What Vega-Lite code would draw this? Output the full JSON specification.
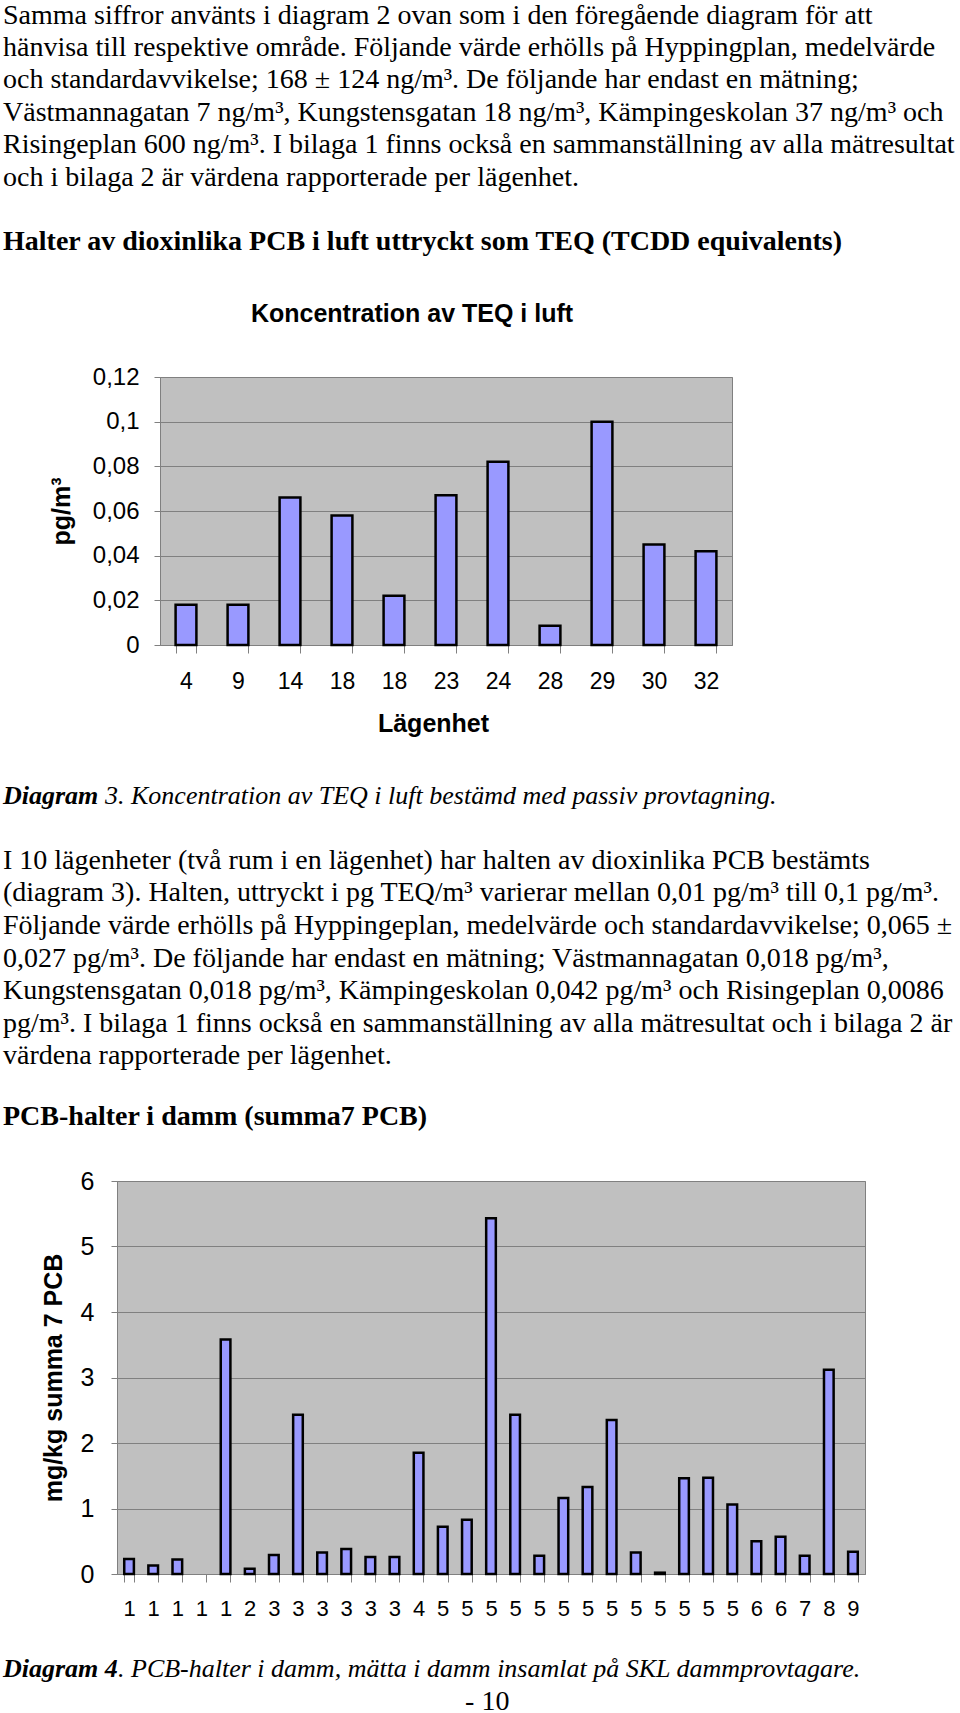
{
  "$schema": "https://vega.github.io/schema/vega-lite/v6.json",
  "background": "white",
  "padding": {"left": 3, "right": 0, "top": 1, "bottom": 0},
  "spacing": 37,
  "config": {
    "view": {"fill": "#c0c0c0", "stroke": "#808080", "strokeWidth": 1},
    "font": "Liberation Sans",
    "axis": {
      "labelFont": "Liberation Sans", "labelColor": "black",
      "titleFont": "Liberation Sans", "titleFontWeight": "bold", "titleColor": "black",
      "domainColor": "#808080", "tickColor": "#808080", "gridColor": "#808080", "gridOpacity": 1, "gridWidth": 1,
      "labelOverlap": false
    }
  },
  "vconcat": [
    {
      "title": {
        "text": [
          "Samma siffror använts i diagram 2 ovan som i den föregående diagram för att",
          "hänvisa till respektive område. Följande värde erhölls på Hyppingplan, medelvärde",
          "och standardavvikelse; 168 ± 124 ng/m³. De följande har endast en mätning;",
          "Västmannagatan 7 ng/m³, Kungstensgatan 18 ng/m³, Kämpingeskolan 37 ng/m³ och",
          "Risingeplan 600 ng/m³. I bilaga 1 finns också en sammanställning av alla mätresultat",
          "och i bilaga 2 är värdena rapporterade per lägenhet."
        ],
        "subtitle": "Halter av dioxinlika PCB i luft uttryckt som TEQ (TCDD equivalents)",
        "anchor": "start", "frame": "bounds", "orient": "top",
        "font": "Liberation Serif", "fontSize": 28, "fontWeight": "normal", "lineHeight": 32.4, "color": "black",
        "subtitleFont": "Liberation Serif", "subtitleFontSize": 28, "subtitleFontWeight": "bold",
        "subtitleColor": "black", "subtitleLineHeight": 32.4, "subtitlePadding": 36,
        "offset": 46, "dx": 0
      },
      "vconcat": [
        {
          "title": {
            "text": "Diagram",
            "orient": "bottom", "anchor": "start", "frame": "bounds", "baseline": "top",
            "font": "Liberation Serif", "fontSize": 26, "fontStyle": "italic", "fontWeight": "bold", "color": "black",
            "offset": 0, "dx": -36, "dy": -26
          },
          "vconcat": [
            {
              "title": {
                "text": "3. Koncentration av TEQ i luft bestämd med passiv provtagning.",
                "orient": "bottom", "anchor": "start", "frame": "bounds", "baseline": "top",
                "font": "Liberation Serif", "fontSize": 26, "fontStyle": "italic", "fontWeight": "normal", "color": "black",
                "offset": 46, "dx": 66
              },
              "hconcat": [
                {
                  "width": 9, "height": 1,
                  "view": {"fill": null, "stroke": null},
                  "data": {"values": []},
                  "mark": {"type": "point", "opacity": 0}
                },
                {
                  "title": {
                    "text": "Koncentration av TEQ i luft",
                    "font": "Liberation Sans", "fontSize": 25, "fontWeight": "bold", "color": "black",
                    "anchor": "middle", "frame": "group", "offset": 38, "dx": -34
                  },
                  "width": 572,
                  "height": 268,
                  "data": {
                    "values": [
                      {"nr": 1, "lagenhet": "4", "teq": 0.018},
                      {"nr": 2, "lagenhet": "9", "teq": 0.018},
                      {"nr": 3, "lagenhet": "14", "teq": 0.066},
                      {"nr": 4, "lagenhet": "18", "teq": 0.058},
                      {"nr": 5, "lagenhet": "18", "teq": 0.022},
                      {"nr": 6, "lagenhet": "23", "teq": 0.067},
                      {"nr": 7, "lagenhet": "24", "teq": 0.082},
                      {"nr": 8, "lagenhet": "28", "teq": 0.0086},
                      {"nr": 9, "lagenhet": "29", "teq": 0.1},
                      {"nr": 10, "lagenhet": "30", "teq": 0.045},
                      {"nr": 11, "lagenhet": "32", "teq": 0.042}
                    ]
                  },
                  "mark": {"type": "bar", "fill": "#9999ff", "stroke": "black", "strokeWidth": 2.5},
                  "encoding": {
                    "x": {
                      "field": "nr", "type": "ordinal",
                      "scale": {"paddingInner": 0.6, "paddingOuter": 0.3},
                      "axis": {
                        "title": "Lägenhet", "titleFontSize": 25, "titlePadding": 18, "titleX": 273,
                        "labelAngle": 0, "labelFontSize": 23, "labelPadding": 17,
                        "tickSize": 8, "tickBand": "extent",
                        "labelExpr": "split('4,9,14,18,18,23,24,28,29,30,32', ',')[datum.value - 1]"
                      }
                    },
                    "y": {
                      "field": "teq", "type": "quantitative",
                      "scale": {"domain": [0, 0.12]},
                      "axis": {
                        "title": "pg/m³", "titleFontSize": 25, "titlePadding": 18,
                        "values": [0, 0.02, 0.04, 0.06, 0.08, 0.1, 0.12],
                        "labelExpr": "replace(format(datum.value, '.2~f'), '.', ',')",
                        "labelFontSize": 24, "labelPadding": 15, "tickSize": 6, "grid": true
                      }
                    }
                  }
                }
              ],
              "spacing": 0
            }
          ]
        }
      ]
    },
    {
      "title": {
        "text": [
          "I 10 lägenheter (två rum i en lägenhet) har halten av dioxinlika PCB bestämts",
          "(diagram 3). Halten, uttryckt i pg TEQ/m³ varierar mellan 0,01 pg/m³ till 0,1 pg/m³.",
          "Följande värde erhölls på Hyppingeplan, medelvärde och standardavvikelse; 0,065 ±",
          "0,027 pg/m³. De följande har endast en mätning; Västmannagatan 0,018 pg/m³,",
          "Kungstensgatan 0,018 pg/m³, Kämpingeskolan 0,042 pg/m³ och Risingeplan 0,0086",
          "pg/m³. I bilaga 1 finns också en sammanställning av alla mätresultat och i bilaga 2 är",
          "värdena rapporterade per lägenhet."
        ],
        "subtitle": "PCB-halter i damm (summa7 PCB)",
        "anchor": "start", "frame": "bounds", "orient": "top",
        "font": "Liberation Serif", "fontSize": 28, "fontWeight": "normal", "lineHeight": 32.6, "color": "black",
        "subtitleFont": "Liberation Serif", "subtitleFontSize": 28, "subtitleFontWeight": "bold",
        "subtitleColor": "black", "subtitleLineHeight": 32.6, "subtitlePadding": 32,
        "offset": 38, "dx": 0
      },
      "vconcat": [
        {
          "title": {
            "text": "- 10",
            "orient": "bottom", "anchor": "middle", "frame": "bounds",
            "font": "Liberation Serif", "fontSize": 28, "fontWeight": "normal", "color": "black",
            "offset": 6, "dx": 53
          },
          "vconcat": [
            {
              "title": {
                "text": "Diagram 4",
                "orient": "bottom", "anchor": "start", "frame": "bounds", "baseline": "top",
                "font": "Liberation Serif", "fontSize": 26, "fontStyle": "italic", "fontWeight": "bold", "color": "black",
                "offset": 0, "dx": -36, "dy": -26
              },
              "vconcat": [
                {
                  "title": {
                    "text": ". PCB-halter i damm, mätta i damm insamlat på SKL dammprovtagare.",
                    "orient": "bottom", "anchor": "start", "frame": "bounds", "baseline": "top",
                    "font": "Liberation Serif", "fontSize": 26, "fontStyle": "italic", "fontWeight": "normal", "color": "black",
                    "offset": 36, "dx": 79
                  },
                  "hconcat": [
                    {
                      "width": 1, "height": 1,
                      "view": {"fill": null, "stroke": null},
                      "data": {"values": []},
                      "mark": {"type": "point", "opacity": 0}
                    },
                    {
                      "width": 748,
                      "height": 393,
                      "data": {
                        "values": [
                          {"nr": 1, "lagenhet": "1", "pcb": 0.23},
                          {"nr": 2, "lagenhet": "1", "pcb": 0.13},
                          {"nr": 3, "lagenhet": "1", "pcb": 0.22},
                          {"nr": 4, "lagenhet": "1", "pcb": null},
                          {"nr": 5, "lagenhet": "1", "pcb": 3.58},
                          {"nr": 6, "lagenhet": "2", "pcb": 0.08},
                          {"nr": 7, "lagenhet": "3", "pcb": 0.29},
                          {"nr": 8, "lagenhet": "3", "pcb": 2.43},
                          {"nr": 9, "lagenhet": "3", "pcb": 0.33},
                          {"nr": 10, "lagenhet": "3", "pcb": 0.38},
                          {"nr": 11, "lagenhet": "3", "pcb": 0.26},
                          {"nr": 12, "lagenhet": "3", "pcb": 0.26},
                          {"nr": 13, "lagenhet": "4", "pcb": 1.85},
                          {"nr": 14, "lagenhet": "5", "pcb": 0.72},
                          {"nr": 15, "lagenhet": "5", "pcb": 0.83},
                          {"nr": 16, "lagenhet": "5", "pcb": 5.43},
                          {"nr": 17, "lagenhet": "5", "pcb": 2.43},
                          {"nr": 18, "lagenhet": "5", "pcb": 0.28},
                          {"nr": 19, "lagenhet": "5", "pcb": 1.16},
                          {"nr": 20, "lagenhet": "5", "pcb": 1.33},
                          {"nr": 21, "lagenhet": "5", "pcb": 2.35},
                          {"nr": 22, "lagenhet": "5", "pcb": 0.33},
                          {"nr": 23, "lagenhet": "5", "pcb": 0.02},
                          {"nr": 24, "lagenhet": "5", "pcb": 1.46},
                          {"nr": 25, "lagenhet": "5", "pcb": 1.47},
                          {"nr": 26, "lagenhet": "5", "pcb": 1.06},
                          {"nr": 27, "lagenhet": "6", "pcb": 0.5},
                          {"nr": 28, "lagenhet": "6", "pcb": 0.57},
                          {"nr": 29, "lagenhet": "7", "pcb": 0.28},
                          {"nr": 30, "lagenhet": "8", "pcb": 3.12},
                          {"nr": 31, "lagenhet": "9", "pcb": 0.34}
                        ]
                      },
                      "mark": {"type": "bar", "fill": "#9999ff", "stroke": "black", "strokeWidth": 2.5},
                      "encoding": {
                        "x": {
                          "field": "nr", "type": "ordinal",
                          "scale": {"paddingInner": 0.6, "paddingOuter": 0.3,
                            "domain": [1,2,3,4,5,6,7,8,9,10,11,12,13,14,15,16,17,18,19,20,21,22,23,24,25,26,27,28,29,30,31]},
                          "axis": {
                            "title": null,
                            "labelAngle": 0, "labelFontSize": 22, "labelPadding": 16,
                            "tickSize": 8, "tickBand": "extent",
                            "labelExpr": "split('1,1,1,1,1,2,3,3,3,3,3,3,4,5,5,5,5,5,5,5,5,5,5,5,5,5,6,6,7,8,9', ',')[datum.value - 1]"
                          }
                        },
                        "y": {
                          "field": "pcb", "type": "quantitative",
                          "scale": {"domain": [0, 6]},
                          "axis": {
                            "title": "mg/kg summa 7 PCB", "titleFontSize": 25, "titlePadding": 14,
                            "values": [0, 1, 2, 3, 4, 5, 6],
                            "labelFontSize": 25, "labelPadding": 17, "tickSize": 6, "grid": true
                          }
                        }
                      }
                    }
                  ],
                  "spacing": 0
                }
              ]
            }
          ]
        }
      ]
    }
  ]
}
